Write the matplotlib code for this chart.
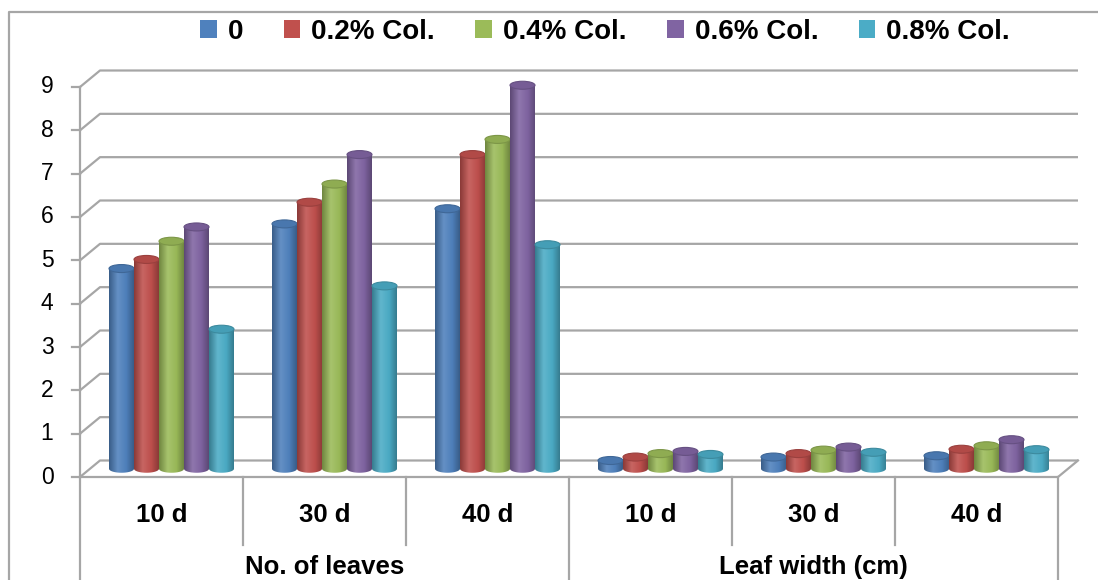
import numpy as np
import matplotlib
matplotlib.use("Agg")
import matplotlib.pyplot as plt
from matplotlib import font_manager
from matplotlib.colors import LinearSegmentedColormap, to_rgb
from matplotlib.patches import Polygon, Ellipse, Patch
from matplotlib.lines import Line2D

# ---- data ----
categories = ["10 d", "30 d", "40 d", "10 d", "30 d", "40 d"]
groups = ["No. of leaves", "Leaf width (cm)"]
series = ["0", "0.2% Col.", "0.4% Col.", "0.6% Col.", "0.8% Col."]
v_0 = [4.62, 5.65, 6.00, 0.19, 0.27, 0.30]
v_02 = [4.83, 6.15, 7.25, 0.27, 0.35, 0.45]
v_04 = [5.25, 6.57, 7.60, 0.35, 0.43, 0.53]
v_06 = [5.58, 7.25, 8.85, 0.40, 0.50, 0.67]
v_08 = [3.22, 4.22, 5.17, 0.33, 0.38, 0.44]
values = [v_0, v_02, v_04, v_06, v_08]
colors = ["#4F81BD", "#C0504D", "#9BBB59", "#8064A2", "#4BACC6"]

names = {f.name for f in font_manager.fontManager.ttflist}
FONT = "Liberation Sans Narrow" if "Liberation Sans Narrow" in names else "Liberation Sans"
plt.rcParams["font.family"] = [FONT, "DejaVu Sans"]

W, H = 1098, 580
ymax = 9
ytop = 10                  # axes top (room for caps)
px_y = 390 / ymax          # pixels per unit
fig = plt.figure(figsize=(W / 100, H / 100), dpi=100)
ax = fig.add_axes([80 / W, 103 / H, 978 / W, ytop * px_y / H])
ax.axis("off")

ncat = len(categories)
px_x = 978 / ncat          # pixels per category
DX = 20 / px_x             # depth offset (data units)
DY = 16.5 / px_y
EH = 8 / px_y              # ellipse height of cylinder caps
bw = 25 / px_x             # bar width
grid_c = "#a6a6a6"

# back wall gridlines + side wall diagonals
for v in range(ymax + 1):
    ax.plot([0, DX, ncat + DX], [v, v + DY, v + DY], color=grid_c, lw=1.6,
            clip_on=False, zorder=1, solid_capstyle="butt")
    ax.plot([-8 / px_x, 0], [v, v], color=grid_c, lw=1.6, clip_on=False, zorder=1)
    ax.text(-33 / px_x, v, str(v), ha="center", va="center", fontsize=16.5,
            color="black")
# floor
ax.plot([0, ncat, ncat + DX], [0, 0, DY], color=grid_c, lw=1.6, clip_on=False, zorder=1)
# front axis and category separators
bottom = -103 / px_y
ax.plot([0, 0], [bottom, ymax], color=grid_c, lw=1.6, clip_on=False, zorder=1)
for k in range(1, ncat + 1):
    y_end = bottom if k in (3, 6) else -68 / px_y
    ax.plot([k, k], [0, y_end], color=grid_c, lw=1.6, clip_on=False, zorder=1)

# category and group labels
for i, c in enumerate(categories):
    ax.text(i + 0.5, -38 / px_y, c, ha="center", va="center", fontsize=18.5,
            fontweight="bold")
for g, name in enumerate(groups):
    ax.text(g * 3 + 1.5, -90 / px_y, name, ha="center", va="center",
            fontsize=18.5, fontweight="bold")


def shade(c, f):
    r = np.array(to_rgb(c))
    if f < 1:
        return tuple(r * f)
    return tuple(r + (1 - r) * (f - 1))


def cylinder(xc, base, top, color, z):
    x0, x1 = xc - bw / 2, xc + bw / 2
    t = np.linspace(np.pi, 2 * np.pi, 30)
    arc = np.column_stack([xc + bw / 2 * np.cos(t), base + EH / 2 * np.sin(t)])
    pts = np.vstack([[[x0, top]], arc, [[x1, top]]])
    body = Polygon(pts, closed=True, facecolor="none", edgecolor="none",
                   transform=ax.transData)
    ax.add_patch(body)
    cmap = LinearSegmentedColormap.from_list(
        "cyl", [(0, shade(color, 0.72)), (0.35, shade(color, 1.12)),
                (0.7, shade(color, 0.98)), (1, shade(color, 0.72))])
    grad = np.linspace(0, 1, 64).reshape(1, -1)
    im = ax.imshow(grad, cmap=cmap, extent=[x0, x1, base - EH, top],
                   aspect="auto", zorder=z, interpolation="bilinear")
    im.set_clip_path(body)
    cap = Ellipse((xc, top), bw, EH, facecolor=shade(color, 0.92),
                  edgecolor=shade(color, 0.8), lw=0.8, zorder=z + 0.1)
    ax.add_patch(cap)


nser = len(series)
for i in range(ncat):
    for j in range(nser):
        xc = i + 0.5 + DX / 2 + (j - (nser - 1) / 2) * bw
        cylinder(xc, DY / 2, DY / 2 + values[j][i], colors[j], 2 + j * 0.2)

ax.set_xlim(0, ncat)
ax.set_ylim(0, ytop)

# chart border
fig.add_artist(Line2D([9 / W, 9 / W, 1], [0, 1 - 12 / H, 1 - 12 / H],
                      color=grid_c, lw=1.6))

handles = [Patch(facecolor=c, edgecolor="none") for c in colors]
fig.legend(handles, series, loc="center", bbox_to_anchor=(605 / W, 1 - 32 / H),
           ncol=5, frameon=False, handlelength=0.6, handleheight=0.6,
           handletextpad=0.4, columnspacing=1.45,
           prop={"weight": "bold", "size": 20})

fig.savefig("out.png", dpi=100)
